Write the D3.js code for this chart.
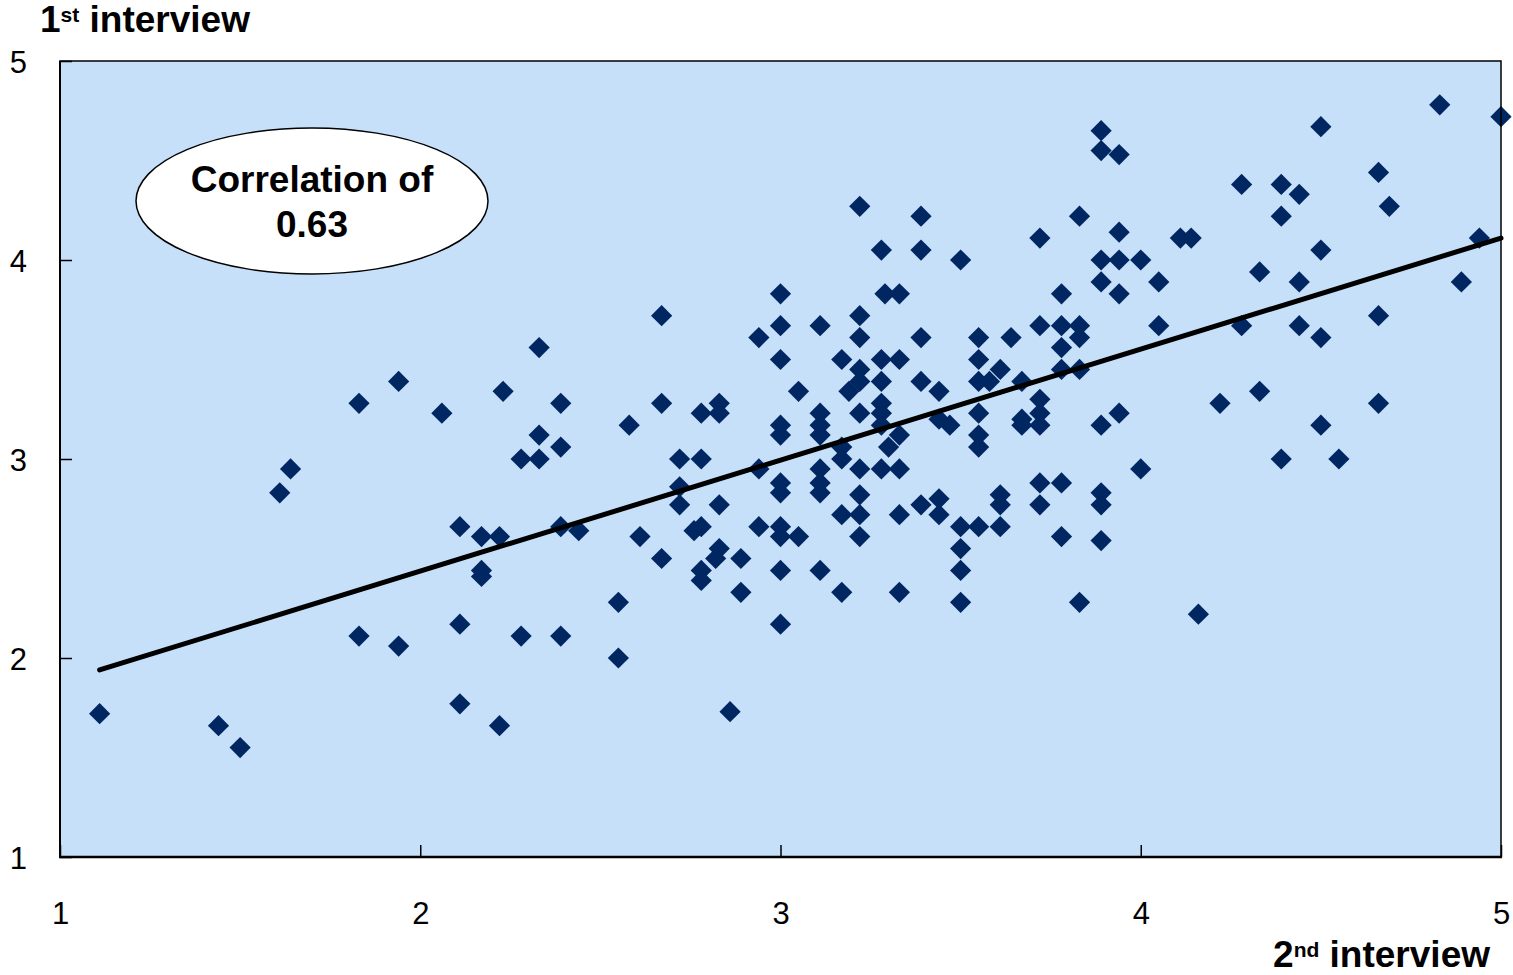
<!DOCTYPE html>
<html>
<head>
<meta charset="utf-8">
<script src="https://cdn.jsdelivr.net/npm/d3@7"></script>
<style>
  html, body { margin: 0; padding: 0; background: #ffffff; }
  svg { display: block; }
</style>
</head>
<body>
<svg id="chart" width="1513" height="975"></svg>
<script>
// ---- Data ----
const secondInterview = [
  1.11, 1.44, 1.50, 1.61, 1.64, 1.83, 1.83, 1.94, 1.94, 2.06,
  2.11, 2.11, 2.11, 2.17, 2.17, 2.17, 2.22, 2.23, 2.22, 2.28,
  2.28, 2.33, 2.33, 2.33, 2.39, 2.39, 2.39, 2.39, 2.44, 2.55,
  2.55, 2.58, 2.61, 2.67, 2.67, 2.67, 2.72, 2.72, 2.72, 2.78,
  2.78, 2.76, 2.78, 2.78, 2.78, 2.83, 2.83, 2.83, 2.83, 2.82,
  2.89, 2.89, 2.86, 2.94, 2.94, 2.94, 3.00, 3.00, 3.00, 3.00,
  3.00, 3.00, 3.00, 3.00, 3.00, 3.00, 3.00, 3.05, 3.05, 3.11,
  3.11, 3.11, 3.11, 3.11, 3.11, 3.11, 3.11, 3.17, 3.17, 3.17,
  3.17, 3.17, 3.19, 3.22, 3.22, 3.22, 3.22, 3.22, 3.22, 3.22,
  3.22, 3.22, 3.22, 3.28, 3.28, 3.28, 3.28, 3.28, 3.28, 3.28,
  3.29, 3.30, 3.33, 3.33, 3.33, 3.33, 3.33, 3.33, 3.39, 3.39,
  3.39, 3.39, 3.39, 3.44, 3.44, 3.44, 3.44, 3.47, 3.50, 3.50,
  3.50, 3.50, 3.50, 3.55, 3.55, 3.55, 3.55, 3.55, 3.55, 3.55,
  3.58, 3.61, 3.61, 3.61, 3.61, 3.64, 3.67, 3.67, 3.67, 3.72,
  3.72, 3.72, 3.72, 3.72, 3.72, 3.72, 3.78, 3.78, 3.78, 3.78,
  3.78, 3.78, 3.83, 3.83, 3.83, 3.83, 3.83, 3.89, 3.89, 3.89,
  3.89, 3.89, 3.89, 3.89, 3.89, 3.94, 3.94, 3.94, 3.94, 3.94,
  4.00, 4.00, 4.05, 4.05, 4.11, 4.14, 4.16, 4.22, 4.28, 4.28,
  4.33, 4.33, 4.39, 4.39, 4.39, 4.44, 4.44, 4.44, 4.50, 4.50,
  4.50, 4.50, 4.55, 4.66, 4.66, 4.66, 4.69, 4.83, 4.89, 4.94,
  5.00
];
const firstInterview = [
  1.72, 1.66, 1.55, 2.83, 2.95, 3.28, 2.11, 3.39, 2.06, 3.23,
  2.66, 2.17, 1.77, 2.61, 2.44, 2.41, 2.61, 3.34, 1.66, 3.00,
  2.11, 3.56, 3.12, 3.00, 3.28, 3.06, 2.66, 2.11, 2.64, 2.28,
  2.00, 3.17, 2.61, 3.72, 3.28, 2.50, 3.00, 2.86, 2.77, 3.00,
  3.23, 2.64, 2.66, 2.44, 2.39, 3.28, 3.23, 2.77, 2.55, 2.50,
  2.50, 2.33, 1.73, 3.61, 2.95, 2.66, 3.83, 3.67, 3.50, 3.17,
  3.12, 2.88, 2.83, 2.66, 2.61, 2.44, 2.17, 3.34, 2.61, 3.67,
  3.23, 3.17, 3.12, 2.95, 2.88, 2.83, 2.44, 3.50, 3.06, 3.00,
  2.72, 2.33, 3.34, 4.27, 3.72, 3.61, 3.45, 3.39, 3.23, 2.95,
  2.82, 2.72, 2.61, 4.05, 3.50, 3.39, 3.28, 3.23, 3.17, 2.95,
  3.83, 3.06, 3.83, 3.50, 3.12, 2.95, 2.72, 2.33, 4.22, 4.05,
  3.61, 3.39, 2.77, 3.34, 3.20, 2.80, 2.72, 3.17, 4.00, 2.66,
  2.55, 2.44, 2.28, 3.61, 3.50, 3.39, 3.23, 3.12, 3.06, 2.66,
  3.39, 3.45, 2.82, 2.77, 2.66, 3.61, 3.39, 3.17, 3.20, 4.11,
  3.67, 3.30, 3.23, 3.17, 2.88, 2.77, 3.83, 3.67, 3.56, 3.45,
  2.88, 2.61, 4.22, 3.67, 3.61, 3.45, 2.28, 4.65, 4.55, 4.00,
  3.89, 3.17, 2.83, 2.77, 2.59, 4.53, 4.14, 4.00, 3.83, 3.23,
  4.00, 2.95, 3.89, 3.67, 4.11, 4.11, 2.22, 3.28, 4.38, 3.67,
  3.94, 3.34, 4.38, 4.22, 3.00, 4.33, 3.89, 3.67, 4.67, 4.05,
  3.61, 3.17, 3.00, 4.44, 3.72, 3.28, 4.27, 4.78, 3.89, 4.11,
  4.72
];
const trendX = [1.11, 5.00];
const trendY = [1.94, 4.11];
const xTicks = [1, 2, 3, 4, 5];
const yTicks = [1, 2, 3, 4, 5];
const yTitle = ["1", "st", " interview"];
const xTitle = ["2", "nd", " interview"];
const noteLines = ["Correlation of", "0.63"];

// ---- Layout ----
const svg = d3.select("#chart");
const L = 60, R = 1501, T = 61, B = 857;
const x = d3.scaleLinear().domain([1, 5]).range([L, R]);
const y = d3.scaleLinear().domain([1, 5]).range([B, T]);
const FONT = "'Liberation Sans', Arial, Helvetica, sans-serif";

// plot background
svg.append("rect")
  .attr("x", L).attr("y", T).attr("width", R - L).attr("height", B - T)
  .attr("fill", "#c6e0fa");

// points
const pts = secondInterview.map((v, i) => ({ x: v, y: firstInterview[i] }));
const diamond = d3.symbol().type(d3.symbolSquare).size(225);
svg.append("g").selectAll("path").data(pts).join("path")
  .attr("d", diamond)
  .attr("transform", d => `translate(${x(d.x)},${y(d.y)}) rotate(45)`)
  .attr("fill", "#002762");

// trend line
const trend = trendX.map((v, i) => ({ x: v, y: trendY[i] }));
svg.append("path")
  .datum(trend)
  .attr("d", d3.line().x(d => x(d.x)).y(d => y(d.y)))
  .attr("stroke", "#000").attr("stroke-width", 5)
  .attr("stroke-linecap", "round").attr("fill", "none");

// border
svg.append("rect")
  .attr("x", L).attr("y", T).attr("width", R - L).attr("height", B - T)
  .attr("fill", "none").attr("stroke", "#000").attr("stroke-width", 1.5);
svg.append("line").attr("x1", L - 1).attr("x2", R + 1).attr("y1", B).attr("y2", B)
  .attr("stroke", "#000").attr("stroke-width", 2.5);
svg.append("line").attr("x1", L).attr("x2", L).attr("y1", T).attr("y2", B)
  .attr("stroke", "#000").attr("stroke-width", 2);

// axes (ticks pointing inward)
const xAxis = d3.axisBottom(x).tickValues(xTicks).tickSizeInner(-12).tickSizeOuter(0).tickPadding(0).tickFormat(d3.format("d"));
const gx = svg.append("g").attr("transform", `translate(0,${B})`).call(xAxis);
gx.select(".domain").remove();
gx.selectAll(".tick line").attr("stroke", "#000").attr("stroke-width", 1.5);
gx.selectAll(".tick text").attr("y", 67).attr("dy", 0)
  .attr("font-family", FONT).attr("font-size", 31).attr("fill", "#000");

const yAxis = d3.axisLeft(y).tickValues(yTicks).tickSizeInner(-12).tickSizeOuter(0).tickPadding(0).tickFormat(d3.format("d"));
const gy = svg.append("g").attr("transform", `translate(${L},0)`).call(yAxis);
gy.select(".domain").remove();
gy.selectAll(".tick line").attr("stroke", "#000").attr("stroke-width", 1.5);
gy.selectAll(".tick text").attr("x", -33).attr("dy", "0.36em")
  .attr("font-family", FONT).attr("font-size", 31).attr("fill", "#000");

// axis titles with superscripts
function title(parts, xPos, yPos, anchor) {
  const t = svg.append("text").attr("x", xPos).attr("y", yPos)
    .attr("text-anchor", anchor).attr("font-family", FONT)
    .attr("font-weight", "bold").attr("font-size", 37).attr("fill", "#000");
  t.append("tspan").text(parts[0]);
  t.append("tspan").text(parts[1]).attr("font-size", 21).attr("dy", -10);
  t.append("tspan").text(parts[2]).attr("dy", 10);
}
title(yTitle, 40, 32, "start");
title(xTitle, 1490, 967, "end");

// correlation note
svg.append("ellipse").attr("cx", 312).attr("cy", 201).attr("rx", 176).attr("ry", 73)
  .attr("fill", "#fff").attr("stroke", "#000").attr("stroke-width", 1.5);
svg.append("g").selectAll("text").data(noteLines).join("text")
  .attr("x", 312).attr("y", (d, i) => 192 + i * 45)
  .attr("text-anchor", "middle").attr("font-family", FONT)
  .attr("font-weight", "bold").attr("font-size", 37).attr("fill", "#000")
  .text(d => d);
</script>
</body>
</html>
